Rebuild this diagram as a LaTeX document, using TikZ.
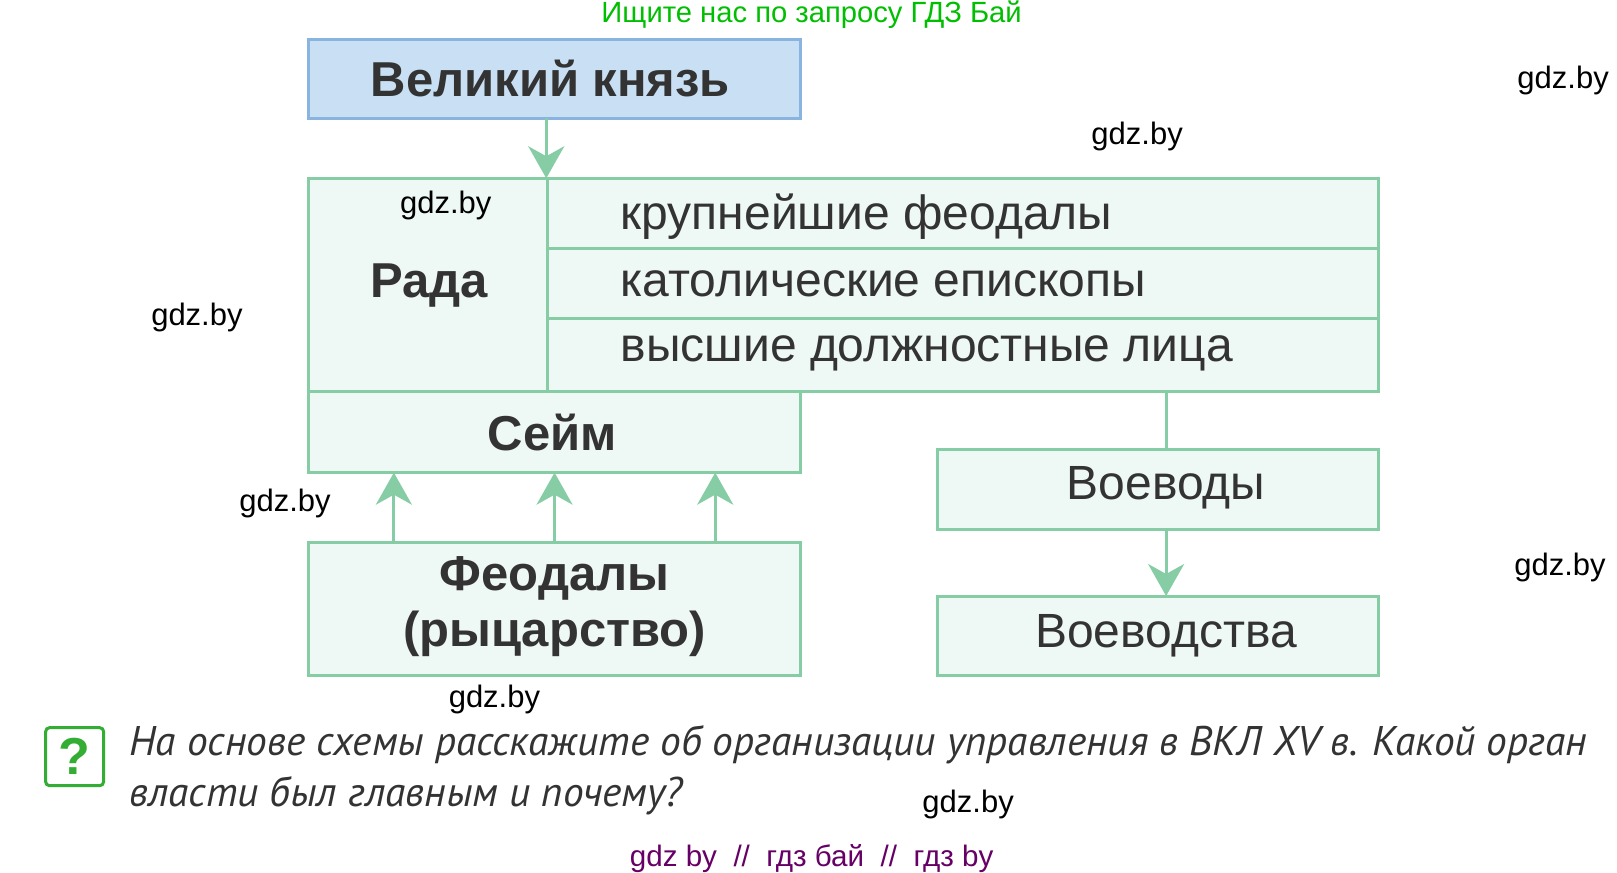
\documentclass[tikz,border=0pt]{standalone}
\usepackage{fontspec}
\setmainfont{Liberation Sans}
\newfontfamily\qfont{PT Sans}
\usetikzlibrary{arrows.meta}
\definecolor{gb}{HTML}{86CDA5}
\definecolor{gf}{HTML}{EEF8F4}
\definecolor{bb}{HTML}{8AB4E0}
\definecolor{bf}{HTML}{C9E0F4}
\definecolor{tx}{HTML}{333333}
\begin{document}
\begin{tikzpicture}[x=0.5183pt,y=-0.5183pt,
  box/.style={draw=gb,fill=gf,line width=1.5pt},
  arr/.style={draw=gb,line width=1.5pt,-{Stealth[length=16pt,width=18pt,inset=5pt,fill=gb]}},
  wm/.style={font=\fontsize{15.5}{17}\selectfont,text=black},
  big/.style={font=\bfseries\fontsize{24.5}{28}\selectfont,text=tx},
  mid/.style={font=\fontsize{24}{27}\selectfont,text=tx}]
\useasboundingbox (0,0) rectangle (1560,842);
\fill[white] (0,0) rectangle (1560,842);
% boxes
\draw[draw=bb,fill=bf,line width=1.5pt] (298,38) rectangle (772,114);
\node[big] (vk) at (531,76) {Великий князь};
\draw[box] (298,172) rectangle (1330,378);
\draw[gb,line width=1.5pt] (528,172) -- (528,378) (528,240) -- (1330,240) (528,307) -- (1330,307);
\node[big] (rada) at (414,275) {Рада};
\node[mid,anchor=west] (r1) at (592,209) {крупнейшие феодалы};
\node[mid,anchor=west] (r2) at (592,274) {католические епископы};
\node[mid,anchor=west] (r3) at (592,341) {высшие должностные лица};
\draw[box] (298,378) rectangle (772,456);
\node[big] (seim) at (533,417) {Сейм};
\draw[box] (298,523) rectangle (772,652);
\node[big,align=center] (feod) at (535,585) {Феодалы\\(рыцарство)};
\draw[box] (904,434) rectangle (1330,511);
\node[mid] (voev) at (1125,471) {Воеводы};
\draw[box] (904,575) rectangle (1330,652);
\node[mid] (voevs) at (1125,613) {Воеводства};
% connectors
\coordinate (a0) at (527,114); \coordinate (a1) at (527,172);
\draw[arr] (a0) -- (a1);
\foreach \x in {380,535,690}{
  \coordinate (s\x) at (\x,523); \coordinate (e\x) at (\x,456);
  \draw[arr] (s\x) -- (e\x);}
\coordinate (c0) at (1125,378); \coordinate (c1) at (1125,434);
\draw[gb,line width=1.5pt] (c0) -- (c1);
\coordinate (d0) at (1125,511); \coordinate (d1) at (1125,575);
\draw[arr] (d0) -- (d1);
% question
\draw[draw=green!60!black!80,fill=white,line width=1.5pt,rounded corners=2pt] (44,702) rectangle (100,758);
\node[font=\bfseries\fontsize{26}{28}\selectfont,text=green!60!black!80] (q) at (72,730) {?};
\node[anchor=north west,align=left,font=\qfont\itshape\fontsize{20.7}{25.5}\selectfont,text=tx] (qt) at (118,693)
 {На основе схемы расскажите об организации управления в ВКЛ XV в. Какой орган\\власти был главным и почему?};
% watermarks
\node[font=\fontsize{14.6}{16}\selectfont,text=green!75!black] (top) at (783,14) {Ищите нас по запросу ГДЗ Бай};
\node[font=\fontsize{14.8}{16}\selectfont,text=violet!80!black] (bot) at (783,828) {gdz by \ // \ гдз бай \ // \ гдз by};
\node[wm] at (1508,78) {gdz.by};
\node[wm] at (1097,132) {gdz.by};
\node[wm] at (430,198) {gdz.by};
\node[wm] at (190,306) {gdz.by};
\node[wm] at (275,486) {gdz.by};
\node[wm] at (1505,547) {gdz.by};
\node[wm] at (477,675) {gdz.by};
\node[wm] at (934,776) {gdz.by};
\end{tikzpicture}
\end{document}
